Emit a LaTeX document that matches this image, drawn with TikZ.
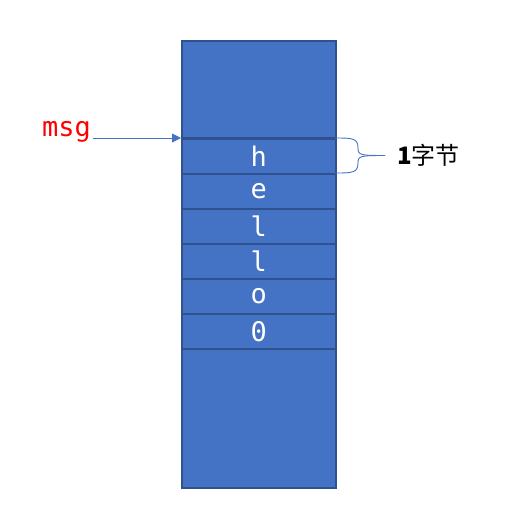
\documentclass[tikz,border=0pt]{standalone}
\usepackage{fontspec}
\setmonofont{DejaVu Sans Mono}
\newfontfamily\cjk{Noto Sans CJK SC}
\definecolor{cellblue}{HTML}{4472C4}
\definecolor{cellborder}{HTML}{2F528F}
\tikzset{
  cell/.style={draw=cellborder, line width=1.5pt, fill=cellblue, minimum width=154pt, minimum height=35pt, inner sep=0pt, anchor=north west},
  cellchar/.style={text=white, font=\ttfamily\fontsize{27}{27}\selectfont},
  pointer/.style={draw=cellblue, line width=0.9pt, -{Triangle[length=9pt,width=9pt]}},
  bracepath/.style={draw=cellblue, line width=0.9pt},
}
\usetikzlibrary{arrows.meta}
\begin{document}
\begin{tikzpicture}[x=1pt,y=-1pt]
\useasboundingbox (0,0) rectangle (515,525);
\node[cell, minimum height=447pt] (mem) at (181,40) {};
\draw[cellborder, line width=1.5pt] (181,138) -- (335,138);
\foreach \y/\c/\n in {138/h/r1,173/e/r2,208/l/r3,243/l/r4,278/o/r5,313/0/r6}{
  \node[cell] (\n) at (181,\y) {};
  \node[cellchar] at (\n.center) {\c};
}
\node[font=\ttfamily\fontsize{27}{27}\selectfont, text={rgb,255:red,255;green,0;blue,0}, anchor=east, inner sep=1pt] (msg) at (92,132) {msg};
\coordinate (msgend) at (93,138);
\draw[pointer] (msgend) -- (mem.west |- r1.north west);
\coordinate (bt) at (335,138);
\coordinate (bb) at (335,173);
\coordinate (tip) at (385,155.5);
\draw[bracepath] (bt) .. controls (352,138) and (358,138) .. (358,148) .. controls (358,155) and (360,155.5) .. (tip);
\draw[bracepath] (bb) .. controls (352,173) and (358,173) .. (358,163) .. controls (358,156) and (360,155.5) .. (tip);
\node[font=\cjk\fontsize{24}{24}\selectfont, anchor=west, inner sep=1pt] (lbl) at (396,155) {\textbf{1}字节};
\end{tikzpicture}
\end{document}
